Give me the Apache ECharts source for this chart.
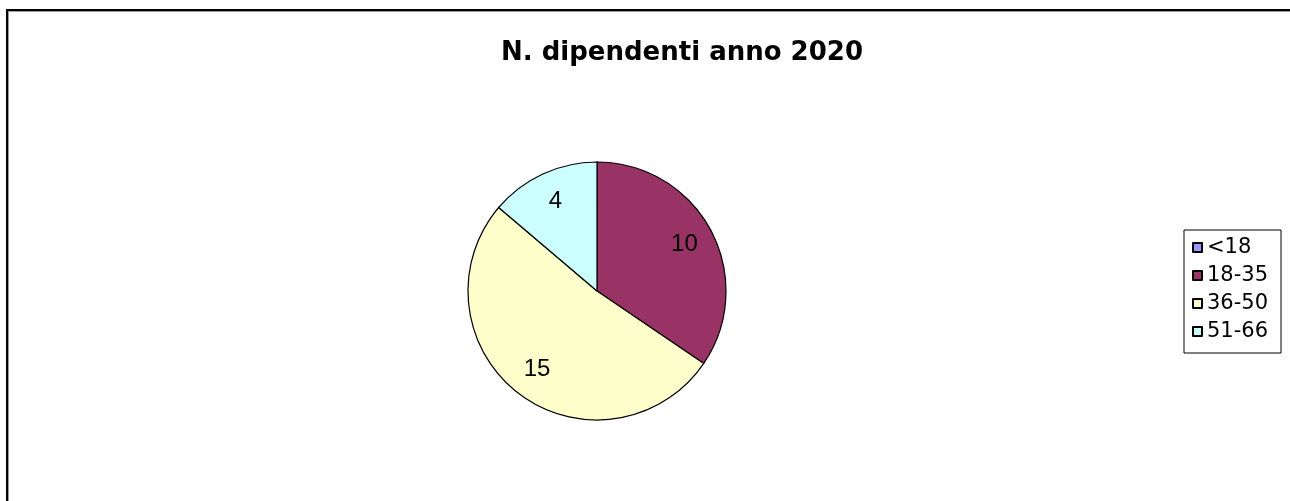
<!DOCTYPE html>
<html>
<head>
<meta charset="utf-8">
<script src="https://cdn.jsdelivr.net/npm/echarts@6/dist/echarts.min.js"></script>
<style>
  html, body { margin: 0; padding: 0; background: #fff; }
  #wrap { position: relative; width: 1290px; height: 501px; overflow: hidden; }
  #frame { position: absolute; left: 6px; top: 9px; width: 2000px; height: 1000px;
           border-left: 2px solid #000; border-top: 2px solid #000;
           box-shadow: inset 1px 1px 0 #9a9a9a; }
  #chart { position: absolute; left: 0; top: 0; width: 1290px; height: 501px; }
</style>
</head>
<body>
<div id="wrap">
  <div id="frame"></div>
  <div id="chart"></div>
</div>
<script>
const titleText = 'N. dipendenti anno 2020';
const categories = ['<18', '18-35', '36-50', '51-66'];
const values = [0, 10, 15, 4];
const colors = ['#9999FF', '#993366', '#FFFFCC', '#CCFFFF'];

const pieData = categories.map((c, i) => ({ name: c, value: values[i], itemStyle: { color: colors[i] } }));
const labelData = categories.map((c, i) => ({ name: c, value: values[i] }));

const chart = echarts.init(document.getElementById('chart'), null, { renderer: 'canvas' });
chart.setOption({
  animation: false,
  backgroundColor: 'transparent',
  title: {
    text: titleText,
    left: 677,
    top: 35,
    textAlign: 'center',
    textStyle: { fontFamily: 'DejaVu Sans', fontWeight: 'bold', fontSize: 26, color: '#000' }
  },
  legend: {
    orient: 'vertical',
    left: 1184,
    top: 230,
    data: categories,
    icon: 'rect',
    itemWidth: 9,
    itemHeight: 9,
    itemGap: 7,
    selectedMode: false,
    borderColor: '#000',
    borderWidth: 1,
    padding: [7, 13, 11, 8],
    textStyle: { fontFamily: 'DejaVu Sans', fontSize: 21, color: '#000' }
  },
  series: [
    {
      type: 'pie',
      center: [597, 291],
      radius: [0, 129],
      startAngle: 90,
      clockwise: true,
      silent: true,
      label: { show: false },
      labelLine: { show: false },
      itemStyle: { borderColor: '#000', borderWidth: 1.2 },
      data: pieData
    },
    {
      type: 'pie',
      center: [597, 291],
      radius: [0, 192],
      startAngle: 90,
      clockwise: true,
      silent: true,
      legendHoverLink: false,
      itemStyle: { color: 'rgba(0,0,0,0)', borderWidth: 0 },
      label: {
        show: true,
        position: 'inside',
        formatter: p => (p.value ? String(p.value) : ''),
        fontFamily: 'Liberation Sans',
        fontSize: 24,
        color: '#000'
      },
      labelLine: { show: false },
      data: labelData
    }
  ]
});
</script>
</body>
</html>
